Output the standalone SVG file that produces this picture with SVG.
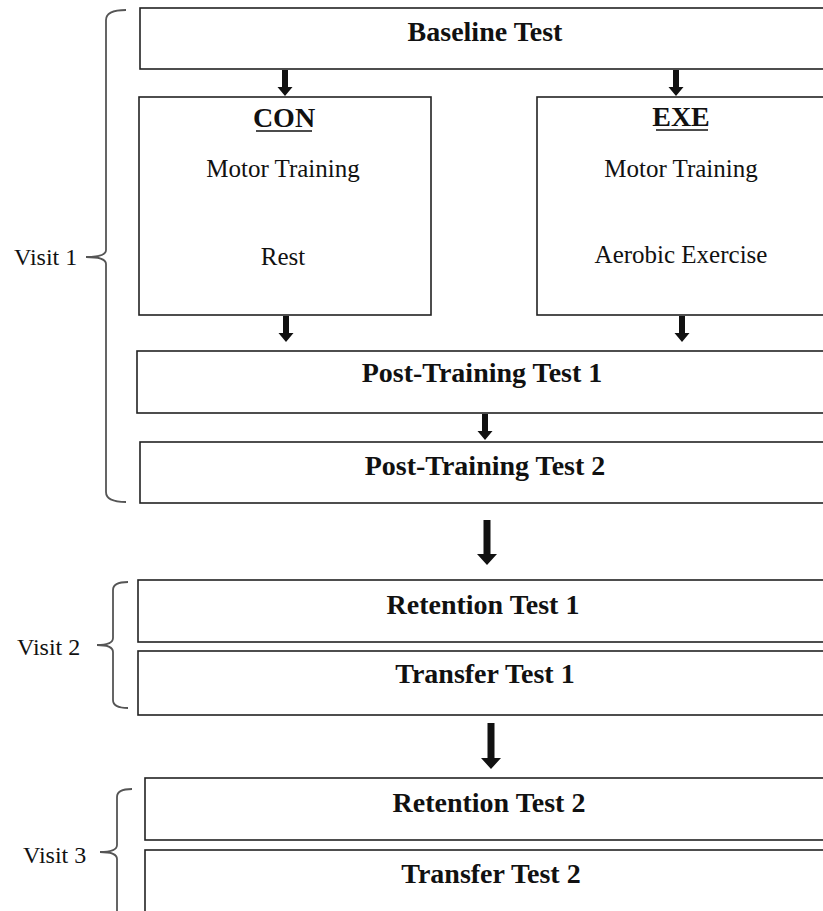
<svg xmlns="http://www.w3.org/2000/svg" width="823" height="911" viewBox="0 0 823 911">
  <style>
    .box { fill: #ffffff; stroke: #222222; stroke-width: 1.6; }
    .title { font-family: "Liberation Serif", "Times New Roman", serif; font-weight: bold; font-size: 28px; fill: #111111; text-anchor: middle; }
    .body { font-family: "Liberation Serif", "Times New Roman", serif; font-size: 25px; fill: #111111; text-anchor: middle; }
    .visit { font-family: "Liberation Serif", "Times New Roman", serif; font-size: 24px; fill: #111111; }
    .arrow { fill: #111111; }
    .brace { fill: none; stroke: #555555; stroke-width: 1.8; }
    .uline { stroke: #111111; stroke-width: 1.6; }
  </style>
  <rect width="823" height="911" fill="#ffffff"/>

  <!-- Visit brackets -->
  <g id="visit1">
    <path class="brace" d="M126 10 Q106 10 106 20 V250 Q106 257 86 257 Q106 257 106 264 V492 Q106 502 126 502"/>
    <text class="visit" x="14" y="265">Visit 1</text>
  </g>
  <g id="visit2">
    <path class="brace" d="M128 582 Q113 582 113 590 V638 Q113 645 97 645 Q113 645 113 652 V700 Q113 708 128 708"/>
    <text class="visit" x="17" y="655">Visit 2</text>
  </g>
  <g id="visit3">
    <path class="brace" d="M132 789 Q117 789 117 797 V845 Q117 852 100 852 Q117 852 117 859 V920"/>
    <text class="visit" x="23" y="863">Visit 3</text>
  </g>

  <!-- Process boxes -->
  <g id="baseline">
    <rect class="box" x="140" y="8" width="700" height="61"/>
    <text class="title" x="485" y="41">Baseline Test</text>
  </g>
  <g id="con">
    <rect class="box" x="139" y="97" width="292" height="218"/>
    <text class="title" x="284" y="127" font-size="25">CON</text>
    <line class="uline" x1="256" y1="131" x2="312" y2="131"/>
    <text class="body" x="283" y="177">Motor Training</text>
    <text class="body" x="283" y="265">Rest</text>
  </g>
  <g id="exe">
    <rect class="box" x="537" y="97" width="300" height="218"/>
    <text class="title" x="681" y="126" font-size="25">EXE</text>
    <line class="uline" x1="656" y1="130" x2="708" y2="130"/>
    <text class="body" x="681" y="177">Motor Training</text>
    <text class="body" x="681" y="263">Aerobic Exercise</text>
  </g>
  <g id="post1">
    <rect class="box" x="137" y="351" width="700" height="62"/>
    <text class="title" x="482" y="382">Post-Training Test 1</text>
  </g>
  <g id="post2">
    <rect class="box" x="140" y="442" width="700" height="61"/>
    <text class="title" x="485" y="475">Post-Training Test 2</text>
  </g>
  <g id="retention1">
    <rect class="box" x="138" y="580" width="700" height="62"/>
    <text class="title" x="483" y="614">Retention Test 1</text>
  </g>
  <g id="transfer1">
    <rect class="box" x="138" y="651" width="700" height="64"/>
    <text class="title" x="485" y="683">Transfer Test 1</text>
  </g>
  <g id="retention2">
    <rect class="box" x="145" y="778" width="700" height="62"/>
    <text class="title" x="489" y="812">Retention Test 2</text>
  </g>
  <g id="transfer2">
    <rect class="box" x="145" y="850" width="700" height="100"/>
    <text class="title" x="491" y="883">Transfer Test 2</text>
  </g>

  <!-- Connectors -->
  <g id="connectors">
    <path class="arrow" d="M282 70 H288 V87 H292.5 L285 96 L277.5 87 H282 Z"/>
    <path class="arrow" d="M673 70 H679 V87 H683.5 L676 96 L668.5 87 H673 Z"/>
    <path class="arrow" d="M283 316 H289 V333 H293.5 L286 342 L278.5 333 H283 Z"/>
    <path class="arrow" d="M679 316 H685 V333 H689.5 L682 342 L674.5 333 H679 Z"/>
    <path class="arrow" d="M482 414 H488 V431 H492.5 L485 440 L477.5 431 H482 Z"/>
    <path class="arrow" d="M483.5 520 H490.5 V554 H497 L487 565 L477 554 H483.5 Z"/>
    <path class="arrow" d="M487.5 723 H494.5 V758 H501 L491 769 L481 758 H487.5 Z"/>
  </g>
</svg>
